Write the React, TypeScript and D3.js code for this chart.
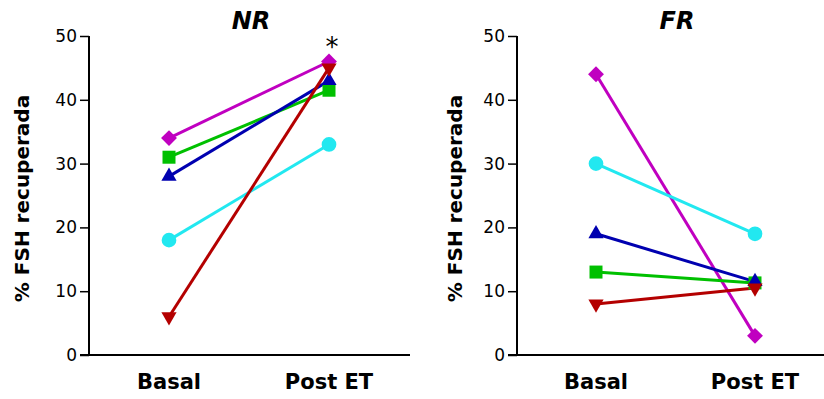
import React, { useEffect, useRef } from 'react';
import * as d3 from 'd3';

const categories = ['Basal', 'Post ET'];
const yTicks = [0, 10, 20, 30, 40, 50];

const seriesNames = ['diamond', 'square', 'triangleUp', 'circle', 'triangleDown'];
const seriesColors = ['#c000c0', '#00c000', '#0000b0', '#22e8f0', '#b40000'];

const nrBasal = [34, 31, 28, 18, 6];
const nrPost = [46, 41.5, 43, 33, 45];
const frBasal = [44, 13, 19, 30, 8];
const frPost = [3, 11.3, 11.5, 19, 10.5];

const panels = [
  { title: 'NR', basal: nrBasal, post: nrPost, star: true },
  { title: 'FR', basal: frBasal, post: frPost, star: false },
];

const symbolFor = (name: string) => {
  switch (name) {
    case 'diamond': return d3.symbolDiamond2;
    case 'square': return d3.symbolSquare;
    case 'triangleUp': return d3.symbolTriangle;
    case 'triangleDown': return d3.symbolTriangle;
    default: return d3.symbolCircle;
  }
};

const sizeFor = (name: string) => {
  switch (name) {
    case 'diamond': return 160;
    case 'square': return 169;
    case 'circle': return 170;
    default: return 100;
  }
};

const App = () => {
  const svgRef = useRef<SVGSVGElement>(null);

  useEffect(() => {
    const svg = d3.select(svgRef.current);
    svg.selectAll('*').remove();

    const layout = [
      { axisX: 89, xLeft: 169, xRight: 329, lineEnd: 410, titleX: 251, labelX: 29 },
      { axisX: 517, xLeft: 596, xRight: 755, lineEnd: 824, titleX: 677, labelX: 462 },
    ];
    const top = 36;
    const bottom = 355;

    panels.forEach((p, pi) => {
      const L = layout[pi];
      const g = svg.append('g');

      const y = d3.scaleLinear().domain([0, 50]).range([bottom, top]);
      const x = d3.scalePoint().domain(categories).range([L.xLeft, L.xRight]);

      // y axis
      const yAxis = g.append('g')
        .attr('transform', `translate(${L.axisX},0)`)
        .call(d3.axisLeft(y).tickValues(yTicks).tickSize(9).tickPadding(3));
      yAxis.select('.domain').attr('stroke', '#000').attr('stroke-width', 2).attr('d', `M0,${top}V${bottom}`);
      yAxis.selectAll('.tick line').attr('stroke-width', 1.5);
      yAxis.selectAll('.tick text')
        .attr('font-family', 'DejaVu Sans, sans-serif')
        .attr('font-size', 17)
        .attr('fill', '#000');

      // x axis line
      g.append('line')
        .attr('x1', L.axisX - 9).attr('x2', L.lineEnd)
        .attr('y1', bottom).attr('y2', bottom)
        .attr('stroke', '#000').attr('stroke-width', 2);

      // category labels
      categories.forEach(c => {
        g.append('text')
          .attr('x', x(c)!)
          .attr('y', bottom + 34)
          .attr('text-anchor', 'middle')
          .attr('font-family', 'DejaVu Sans, sans-serif')
          .attr('font-weight', 'bold')
          .attr('font-size', 21)
          .text(c);
      });

      // title
      g.append('text')
        .attr('x', L.titleX)
        .attr('y', 29)
        .attr('text-anchor', 'middle')
        .attr('font-family', 'DejaVu Sans, sans-serif')
        .attr('font-weight', 'bold')
        .attr('font-style', 'italic')
        .attr('font-size', 24)
        .text(p.title);

      // y label
      g.append('text')
        .attr('transform', `translate(${L.labelX},${(top + bottom) / 2 + 3}) rotate(-90)`)
        .attr('text-anchor', 'middle')
        .attr('font-family', 'DejaVu Sans, sans-serif')
        .attr('font-weight', 'bold')
        .attr('font-size', 20)
        .text('% FSH recuperada');

      // lines
      seriesNames.forEach((name, i) => {
        g.append('line')
          .attr('x1', x(categories[0])!).attr('y1', y(p.basal[i]))
          .attr('x2', x(categories[1])!).attr('y2', y(p.post[i]))
          .attr('stroke', seriesColors[i])
          .attr('stroke-width', 3);
      });

      // markers
      seriesNames.forEach((name, i) => {
        const sym = d3.symbol().type(symbolFor(name)).size(sizeFor(name));
        [p.basal[i], p.post[i]].forEach((v, k) => {
          const rot = name === 'triangleDown' ? ' rotate(180)' : '';
          g.append('path')
            .attr('d', sym()!)
            .attr('transform', `translate(${x(categories[k])},${y(v)})${rot}`)
            .attr('fill', seriesColors[i]);
        });
      });

      if (p.star) {
        g.append('text')
          .attr('x', x(categories[1])! + 3)
          .attr('y', y(d3.max(p.post)!) - 6)
          .attr('text-anchor', 'middle')
          .attr('font-family', 'DejaVu Sans, sans-serif')
          .attr('font-size', 26)
          .text('*');
      }
    });
  }, []);

  return (
    <svg ref={svgRef} width={824} height={399}
      style={{ position: 'absolute', left: 0, top: 0, background: '#fff' }} />
  );
};

export default App;
